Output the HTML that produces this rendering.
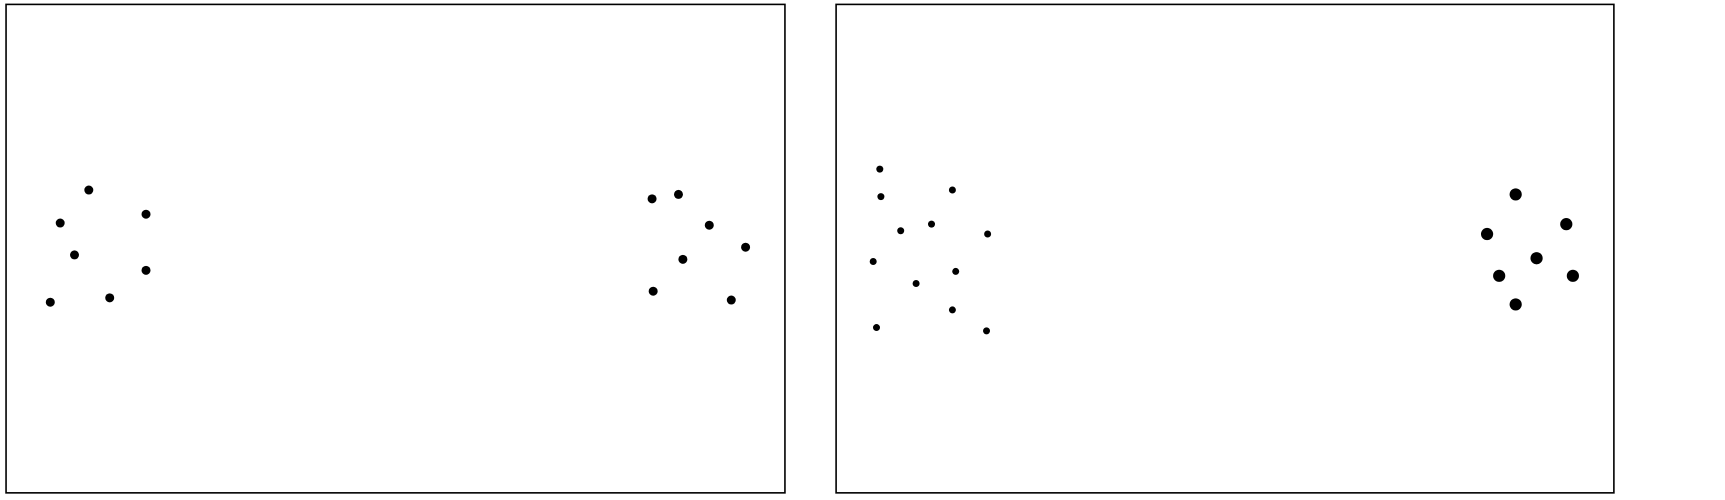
<!DOCTYPE html>
<html><head><meta charset="utf-8"><style>
html,body{margin:0;padding:0;background:#fff;}
svg{display:block;font-family:"Liberation Sans",sans-serif;}
</style></head><body>
<svg id="chart" width="1725" height="500"></svg>
<script>
// Panel 1 data (units: reference grid)
const p1x = [80,54,132,67,132,45,99, 592,616,644,677,620,593,664];
const p1y = [172,202,194,231,245,274,270, 180,176,204,224,235,264,272];
// Panel 2 small points
const p2sx = [799,800,865,818,846,897,793,868,832,865,796,896];
const p2sy = [153,178,172,209,203,212,237,246,257,281,297,300];
// Panel 2 large points
const p2lx = [1377,1351,1423,1396,1362,1429,1377];
const p2ly = [176,212,203,234,250,250,276];

const S = 1725/1568;
const xs = v => v*S + 0.8;
const ys = v => v*S + 0.8;
const NS = "http://www.w3.org/2000/svg";
const svg = document.getElementById('chart');

function frame(x0,x1,name){
  const r = document.createElementNS(NS,'rect');
  r.setAttribute('x',x0*S);r.setAttribute('y',4*S);
  r.setAttribute('width',(x1-x0)*S);r.setAttribute('height',(448-4)*S);
  r.setAttribute('fill','none');r.setAttribute('stroke','#000');r.setAttribute('stroke-width','1.6');
  
  
  svg.appendChild(r);
}
frame(5.5,713.5,'left-panel-frame');
frame(760,1467,'right-panel-frame');

function dots(xa,ya,rad,name){
  for(let i=0;i<xa.length;i++){
    const c = document.createElementNS(NS,'circle');
    c.setAttribute('cx',xs(xa[i]));c.setAttribute('cy',ys(ya[i]));
    c.setAttribute('r',rad);c.setAttribute('fill','#000');
    
    
    svg.appendChild(c);
  }
}
dots(p1x,p1y,4.5,'panel1-point');
dots(p2sx,p2sy,3.5,'panel2-small-point');
dots(p2lx,p2ly,6.1,'panel2-large-point');
</script>
</body></html>
